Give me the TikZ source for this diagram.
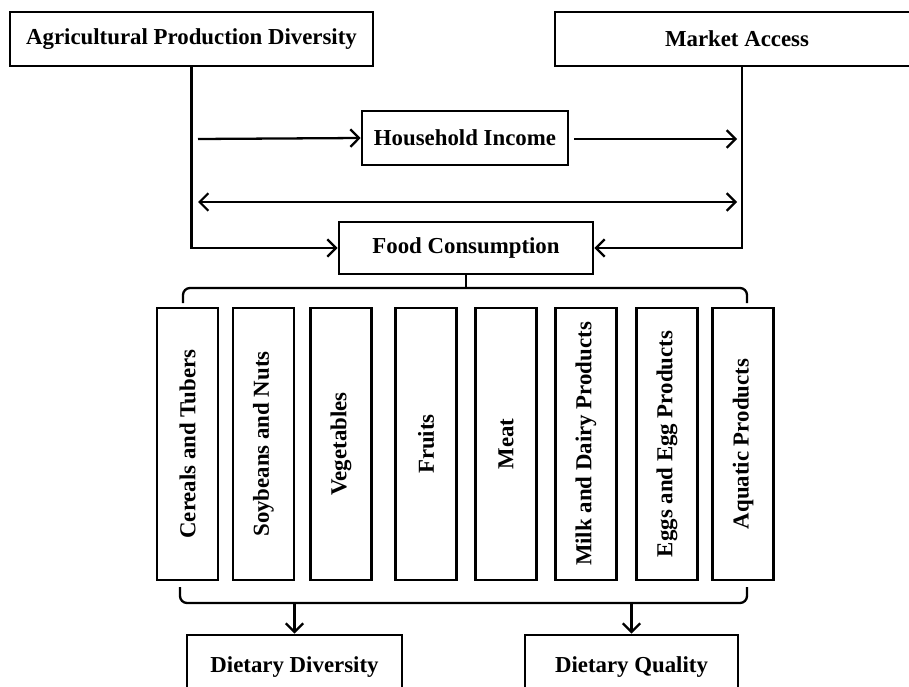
\documentclass[tikz,border=0pt]{standalone}
\usepackage{fontspec}
\setmainfont{Liberation Serif}
\usetikzlibrary{arrows.meta}

\tikzset{
    box/.style={draw, line width=1.5pt, inner sep=0pt, font=\bfseries\fontsize{13pt}{15pt}\selectfont},
    arr/.style={line width=1.3pt, -{Straight Barb[length=5pt,width=10pt,line width=1.3pt]}},
    both/.style={line width=1.3pt, {Straight Barb[length=5pt,width=10pt,line width=1.3pt]}-{Straight Barb[length=5pt,width=10pt,line width=1.3pt]}},
}

\begin{document}
\begin{tikzpicture}[x=0.02cm, y=-0.02cm]
    \useasboundingbox (0,0) rectangle (909,686);
    \clip (0,0) rectangle (909,686);

    % Top boxes
    \node[box, minimum width=7.26cm, minimum height=1.08cm] (agri) at (191.5,39) {Agricultural Production Diversity};
    \node[box, minimum width=7.28cm, minimum height=1.08cm] (market) at (737,39) {Market Access};

    % Middle boxes
    \node[box, minimum width=4.12cm, minimum height=1.08cm] (income) at (465,138) {Household Income};
    \node[box, minimum width=5.08cm, minimum height=1.04cm] (food) at (466,248) {Food Consumption};

    % Define the free ends of the arrows
    \coordinate (incL) at (198,139);
    \coordinate (incR) at (574,139);
    \coordinate (mktR) at (737,139);
    \coordinate (dblL) at (198,202);
    \coordinate (dblR) at (737,202);

    % Draw the arrows between the top boxes
    \draw[arr] (agri.south) |- (food.west);
    \draw[arr] ([xshift=0.1cm]market.south) |- (food.east);
    \draw[arr] (incL) -- (income.west);
    \draw[arr] (incR) -- (mktR);
    \draw[both] (dblL) -- (dblR);

    % Food groups
    \foreach \x/\name/\txt in {187.5/cereal/Cereals and Tubers, 263.5/soy/Soybeans and Nuts,
        341/veg/Vegetables, 426/fruit/Fruits, 506/meat/Meat, 586/milk/Milk and Dairy Products,
        667/egg/Eggs and Egg Products, 743/aqua/Aquatic Products}
        \node[box, rotate=90, minimum width=5.44cm, minimum height=1.22cm] (\name) at (\x,444) {\txt};

    % Draw the upper bracket
    \coordinate (topL) at (183,303);
    \coordinate (topR) at (747,303);
    \coordinate (topM) at (466,288);
    \draw[line width=1.3pt, rounded corners=4pt] (topL) |- (topM) -| (topR);
    \draw[line width=1.3pt] (food.south) -- (topM);

    % Draw the lower bracket
    \coordinate (botL) at (180,587);
    \coordinate (botR) at (747,587);
    \coordinate (botA) at (294.5,603);
    \coordinate (botB) at (631.5,603);
    \draw[line width=1.3pt, rounded corners=4pt] (botL) |- (botA) -- (botB) -| (botR);

    % Bottom boxes
    \node[box, minimum width=4.3cm, minimum height=1.28cm] (ddiv) at (294.5,667) {Dietary Diversity};
    \node[box, minimum width=4.26cm, minimum height=1.28cm] (dqual) at (631.5,667) {Dietary Quality};
    \draw[arr] (botA) -- (ddiv.north);
    \draw[arr] (botB) -- (dqual.north);
\end{tikzpicture}
\end{document}
